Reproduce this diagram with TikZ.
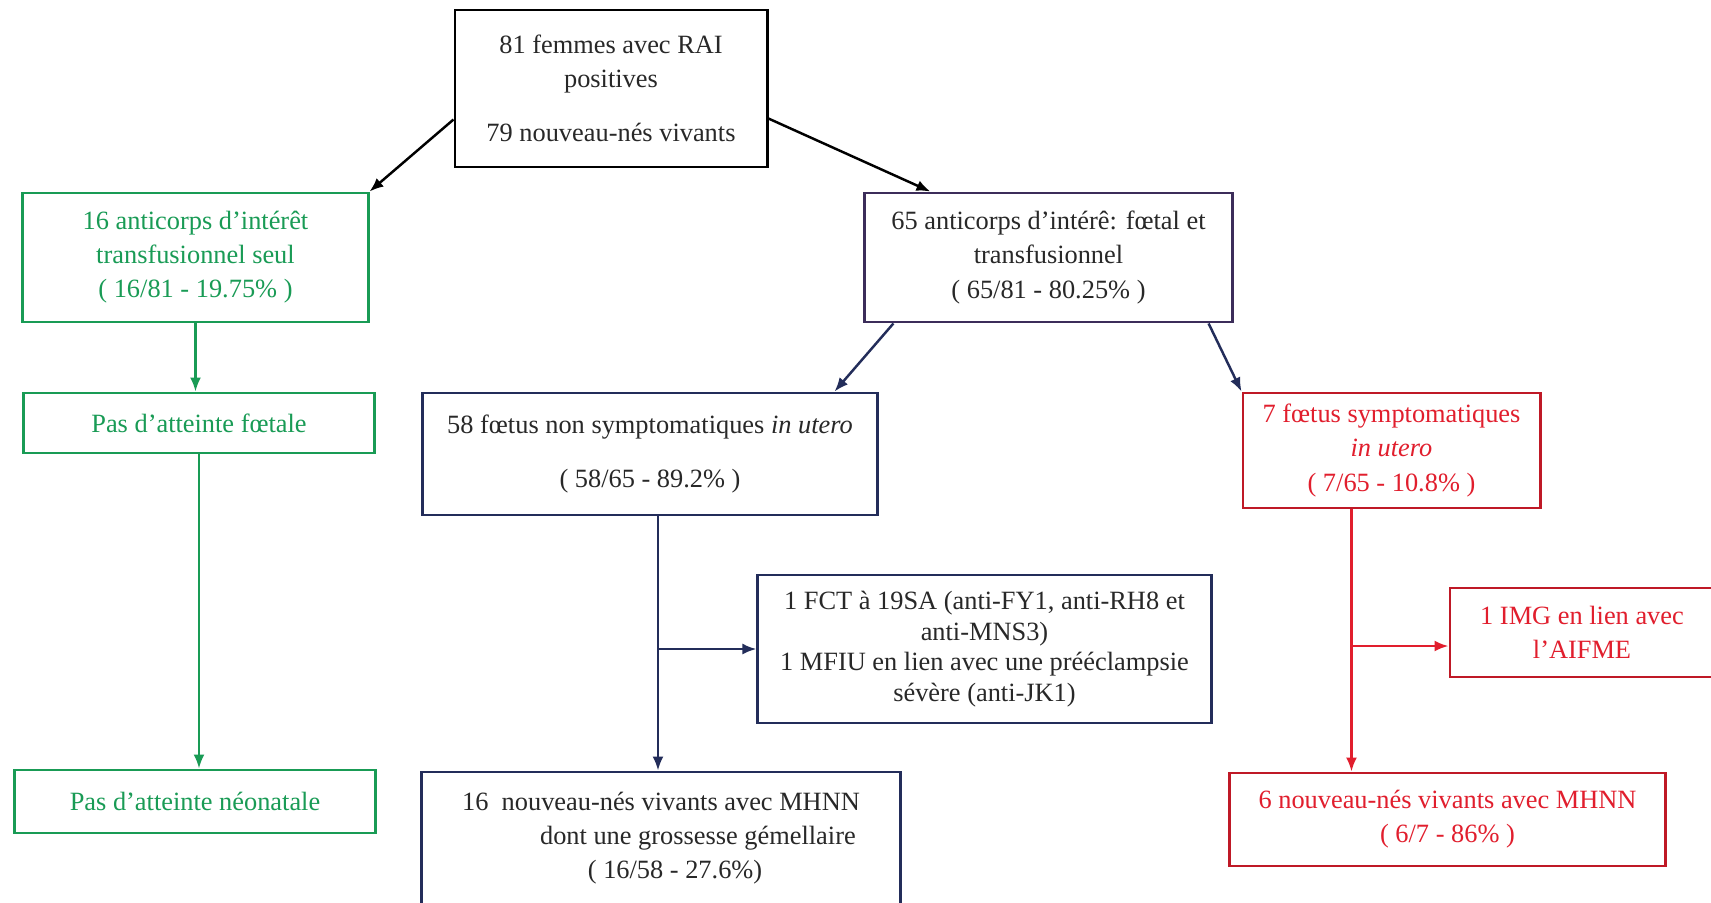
\documentclass[tikz,border=0pt]{standalone}
\usepackage{fontspec}
\setmainfont{Liberation Serif}
\usetikzlibrary{arrows.meta}
\definecolor{vert}{RGB}{25,155,85}
\definecolor{rouge}{RGB}{225,30,45}
\definecolor{marine}{RGB}{35,45,90}
\definecolor{violet}{RGB}{60,45,90}
\definecolor{encre}{RGB}{40,40,40}

\begin{document}
\begin{tikzpicture}[x=0.01cm, y=-0.01cm,
        boite/.style={draw, rectangle, line width=0.8pt, inner sep=0pt, align=center,
            font=\fontsize{7.5pt}{9.7pt}\selectfont},
        noirbox/.style={boite, draw=black, text=encre},
        vertbox/.style={boite, draw=vert, text=vert},
        violetbox/.style={boite, draw=violet, text=encre},
        bleubox/.style={boite, draw=marine, text=encre},
        rougebox/.style={boite, draw=rouge!85!black, text=rouge},
        fleche/.style={line width=0.7pt, -{Latex[length=1.4mm,width=1.1mm]}}]
            \useasboundingbox (0,0) rectangle (1711,902);
            \fill[white] (0,0) rectangle (1711,902);
            \node[noirbox, minimum width=3.12cm, minimum height=1.57cm] (rai) at (611,88.5) {81 femmes avec RAI\\positives\\[5.6pt]79 nouveau-nés vivants};
            \node[vertbox, minimum width=3.45cm, minimum height=1.29cm] (transf) at (195.5,257.5) {16 anticorps d’intérêt\\transfusionnel seul\\( 16/81 - 19.75\% )};
            \node[violetbox, minimum width=3.67cm, minimum height=1.29cm] (foetal) at (1048.5,257.5) {65 anticorps d’intérê: fœtal et\\transfusionnel\\( 65/81 - 80.25\% )};
            \node[vertbox, minimum width=3.50cm, minimum height=0.60cm] (pasfoet) at (199,423) {Pas d’atteinte fœtale};
            \node[vertbox, minimum width=3.60cm, minimum height=0.63cm] (pasneo) at (195,801.5) {Pas d’atteinte néonatale};
            \node[bleubox, minimum width=4.54cm, minimum height=1.22cm] (nonsympt) at (650,454) {58 fœtus non symptomatiques \textit{in utero}\\[5.4pt]( 58/65 - 89.2\% )};
            \node[rougebox, minimum width=2.97cm, minimum height=1.15cm] (sympt) at (1391.5,450.5) {7 fœtus symptomatiques\\\textit{in utero}\\( 7/65 - 10.8\% )};
            \node[bleubox, minimum width=4.53cm, minimum height=1.48cm,
                font=\fontsize{7.5pt}{8.7pt}\selectfont] (deces) at (984.5,649) {1 FCT à 19SA (anti-FY1, anti-RH8 et\\anti-MNS3)\\1 MFIU en lien avec une prééclampsie\\sévère (anti-JK1)};
            \node[rougebox, minimum width=2.64cm, minimum height=0.89cm] (img) at (1582,632.5) {1 IMG en lien avec\\l’AIFME};
            \node[bleubox, minimum width=4.78cm, minimum height=1.33cm] (mhnn) at (661,838.5) {16~ nouveau-nés vivants avec MHNN\\\hspace*{21pt}dont une grossesse gémellaire\\\hspace*{8pt}( 16/58 - 27.6\%)};
            \node[rougebox, minimum width=4.35cm, minimum height=0.93cm] (mhnnr) at (1447.5,819.5) {6 nouveau-nés vivants avec MHNN\\( 6/7 - 86\% )};
            \coordinate (j58) at ([xshift=0.08cm]nonsympt.south);
            \coordinate (j7) at ([xshift=-0.40cm]sympt.south);
            \coordinate (imgin) at ([yshift=-0.135cm]img.west);
            \draw[fleche, black] ([yshift=-0.31cm]rai.west) -- (transf.north east);
            \draw[fleche, black] ([yshift=-0.30cm]rai.east) -- ([xshift=-1.18cm]foetal.north);
            \draw[fleche, vert] (transf.south) -- (transf.south |- pasfoet.north);
            \draw[fleche, vert] (pasfoet.south) -- (pasfoet.south |- pasneo.north);
            \draw[fleche, marine] ([xshift=-1.55cm]foetal.south) -- ([xshift=-0.44cm]nonsympt.north east);
            \draw[fleche, marine] ([xshift=1.60cm]foetal.south) -- (sympt.north west);
            \draw[fleche, marine] (j58) -- (j58 |- mhnn.north);
            \draw[fleche, marine] (j58 |- deces.west) -- (deces.west);
            \draw[fleche, rouge] (j7) -- (j7 |- mhnnr.north);
            \draw[fleche, rouge] (j7 |- imgin) -- (imgin);
        \end{tikzpicture}
\end{document}
